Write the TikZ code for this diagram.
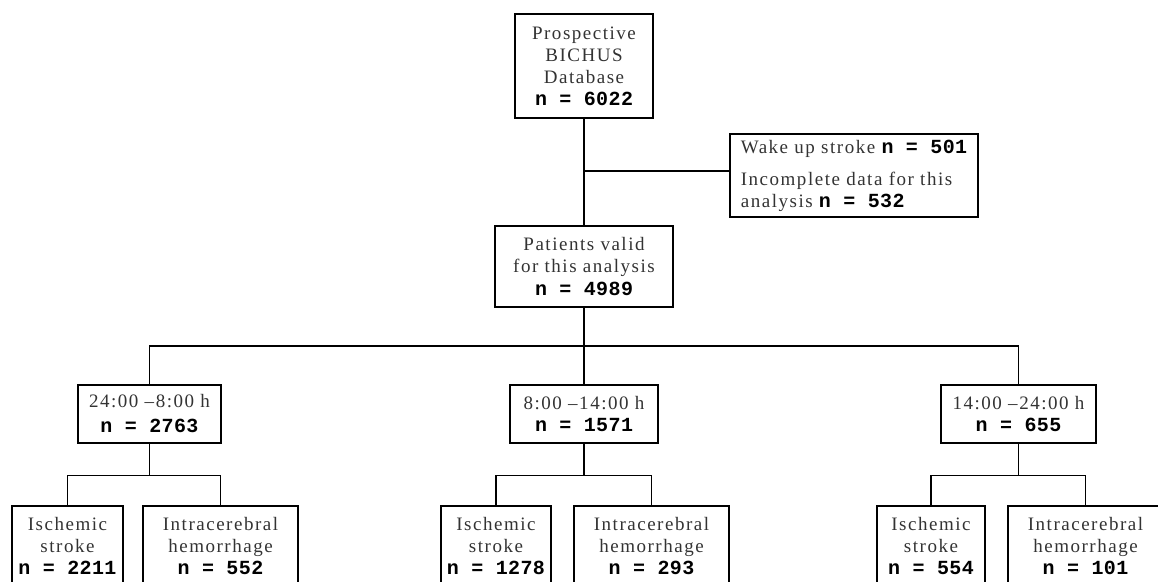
\documentclass[tikz,border=0pt]{standalone}
\usepackage{xcolor}
\usepackage{fontspec}
\setmainfont[LetterSpace=8]{Liberation Serif}
\newfontfamily\cntfont[LetterSpace=2]{Liberation Mono}
\newcommand{\cnt}[1]{{\cntfont\bfseries\fontsize{20}{22}\selectfont\color{black}#1}}
\usepackage{tikz}

\begin{document}
\begin{tikzpicture}[x=1pt, y=-1pt,
    box/.style={rectangle, draw, line width=1.2pt, inner sep=2pt, align=center,
        font=\fontsize{19}{22}\selectfont, text=black!80},
    link/.style={line width=1.2pt}]
    \clip (0,0) rectangle (1158,581);

    \node (db) [box, minimum width=138pt, minimum height=104pt] at (584,66) {Prospective\\BICHUS\\Database\\\cnt{n = 6022}};
    \node (excl) [box, align=left, minimum width=248pt, minimum height=83pt] at (854,175.5) {Wake up stroke \cnt{n = 501}\\[10pt]Incomplete data for this\\analysis \cnt{n = 532}};
    \node (valid) [box, minimum width=178pt, minimum height=81pt] at (584,266.5) {Patients valid\\for this analysis\\\cnt{n = 4989}};

    \node (t1) [box, minimum width=143pt, minimum height=58pt] at (149.5,414) {24:00 –8:00 h\\[3pt]\cnt{n = 2763}};
    \node (t2) [box, minimum width=148pt, minimum height=58pt] at (584,414) {8:00 –14:00 h\\\cnt{n = 1571}};
    \node (t3) [box, minimum width=155pt, minimum height=58pt] at (1018.5,414) {14:00 –24:00 h\\\cnt{n = 655}};

    \node (i1) [box, minimum width=111pt, minimum height=80pt] at (67.5,546) {Ischemic\\stroke\\\cnt{n = 2211}};
    \node (h1) [box, minimum width=155pt, minimum height=80pt] at (220.5,546) {Intracerebral\\hemorrhage\\\cnt{n = 552}};
    \node (i2) [box, minimum width=110pt, minimum height=80pt] at (496,546) {Ischemic\\stroke\\\cnt{n = 1278}};
    \node (h2) [box, minimum width=155pt, minimum height=80pt] at (651.5,546) {Intracerebral\\hemorrhage\\\cnt{n = 293}};
    \node (i3) [box, minimum width=108pt, minimum height=80pt] at (931,546) {Ischemic\\stroke\\\cnt{n = 554}};
    \node (h3) [box, minimum width=155pt, minimum height=80pt] at (1085.5,546) {Intracerebral\\hemorrhage\\\cnt{n = 101}};

    % exclusion branch
    \coordinate (exclj) at (584,171);
    \draw [link] (db) -- (valid);
    \draw [link] (exclj) -- (exclj -| excl.west);

    % split by time of day
    \coordinate (split) at (584,346);
    \draw [link] (valid) -- (split);
    \draw [link] (t1.north) |- (split) -| (t3.north);
    \draw [link] (split) -- (t2);

    % split by stroke type
    \draw [link] (t1.south) -- ++(0,32) coordinate (j1);
    \draw [link] (i1.north) |- (j1) -| (h1.north);
    \draw [link] (t2.south) -- ++(0,32) coordinate (j2);
    \draw [link] (i2.north) |- (j2) -| (h2.north);
    \draw [link] (t3.south) -- ++(0,32) coordinate (j3);
    \draw [link] (i3.north) |- (j3) -| (h3.north);
\end{tikzpicture}
\end{document}
